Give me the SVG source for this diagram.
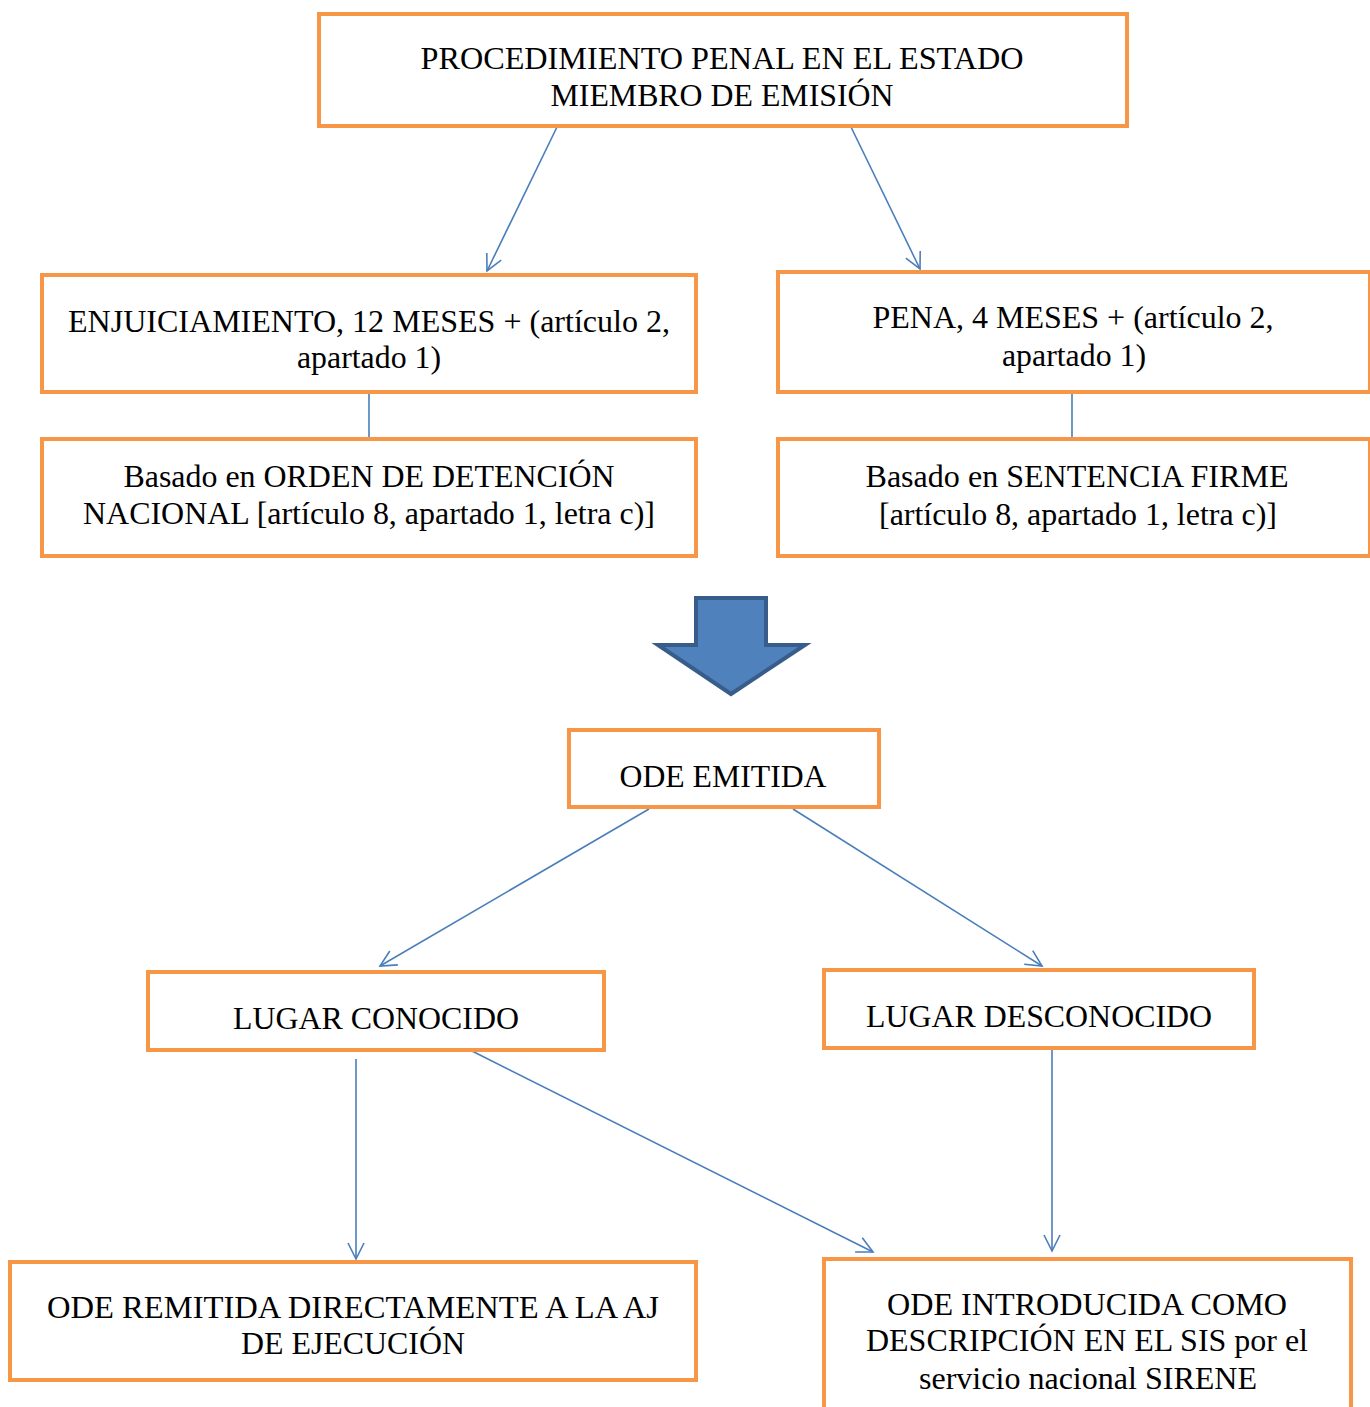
<svg xmlns="http://www.w3.org/2000/svg" width="1370" height="1407" viewBox="0 0 1370 1407">
<style>
.box{fill:#fff;stroke:#f79646;stroke-width:4}
.t{font-family:"Liberation Serif","Times New Roman",serif;font-size:32px;fill:#000;text-anchor:middle}
.c{stroke:#4a7ebb;stroke-width:1.6;fill:none}
.a{marker-end:url(#ah)}
</style>
<defs>
<marker id="ah" markerUnits="userSpaceOnUse" markerWidth="20" markerHeight="20" viewBox="0 0 20 20" refX="18" refY="10" orient="auto">
<path d="M2,2 L18,10 L2,18" fill="none" stroke="#4a7ebb" stroke-width="1.6"/>
</marker>
</defs>
<rect width="1370" height="1407" fill="#fff"/>
<g id="connectors">
<line class="c a" x1="557" y1="127" x2="487" y2="271"/>
<line class="c a" x1="851" y1="127" x2="920" y2="269"/>
<line class="c" x1="369" y1="392" x2="369" y2="438"/>
<line class="c" x1="1072" y1="392" x2="1072" y2="438"/>
<line class="c a" x1="649" y1="809" x2="380" y2="966"/>
<line class="c a" x1="793" y1="809" x2="1042" y2="966"/>
<line class="c a" x1="356" y1="1059" x2="356" y2="1259"/>
<line class="c a" x1="472" y1="1051" x2="873" y2="1252"/>
<line class="c a" x1="1052" y1="1050" x2="1052" y2="1251"/>
</g>
<g id="big-arrow">
<polygon points="696,598 766,598 766,645 805,645 731,694 658,645 696,645" fill="#4f81bd" stroke="#385d8a" stroke-width="4" stroke-linejoin="miter"/>
</g>
<g id="n-procedimiento">
<rect class="box" x="319" y="14" width="808" height="112"/>
<text class="t" x="722" y="69" textLength="603" lengthAdjust="spacingAndGlyphs">PROCEDIMIENTO PENAL EN EL ESTADO</text>
<text class="t" x="722" y="106" textLength="343" lengthAdjust="spacingAndGlyphs">MIEMBRO DE EMISIÓN</text>
</g>
<g id="n-enjuiciamiento">
<rect class="box" x="42" y="275" width="654" height="117"/>
<text class="t" x="369" y="332" textLength="602" lengthAdjust="spacingAndGlyphs">ENJUICIAMIENTO, 12 MESES + (artículo 2,</text>
<text class="t" x="369" y="368" textLength="144" lengthAdjust="spacingAndGlyphs">apartado 1)</text>
</g>
<g id="n-pena">
<rect class="box" x="778" y="272" width="592" height="120"/>
<text class="t" x="1073" y="328" textLength="401" lengthAdjust="spacingAndGlyphs">PENA, 4 MESES + (artículo 2,</text>
<text class="t" x="1074" y="366" textLength="144" lengthAdjust="spacingAndGlyphs">apartado 1)</text>
</g>
<g id="n-orden">
<rect class="box" x="42" y="439" width="654" height="117"/>
<text class="t" x="369" y="487" textLength="491" lengthAdjust="spacingAndGlyphs">Basado en ORDEN DE DETENCIÓN</text>
<text class="t" x="369" y="524" textLength="572" lengthAdjust="spacingAndGlyphs">NACIONAL [artículo 8, apartado 1, letra c)]</text>
</g>
<g id="n-sentencia">
<rect class="box" x="778" y="439" width="592" height="117"/>
<text class="t" x="1077" y="487" textLength="423" lengthAdjust="spacingAndGlyphs">Basado en SENTENCIA FIRME</text>
<text class="t" x="1078" y="525" textLength="398" lengthAdjust="spacingAndGlyphs">[artículo 8, apartado 1, letra c)]</text>
</g>
<g id="n-ode-emitida">
<rect class="box" x="569" y="730" width="310" height="77"/>
<text class="t" x="723" y="787" textLength="207" lengthAdjust="spacingAndGlyphs">ODE EMITIDA</text>
</g>
<g id="n-lugar-conocido">
<rect class="box" x="148" y="972" width="456" height="78"/>
<text class="t" x="376" y="1029" textLength="286" lengthAdjust="spacingAndGlyphs">LUGAR CONOCIDO</text>
</g>
<g id="n-lugar-desconocido">
<rect class="box" x="824" y="970" width="430" height="78"/>
<text class="t" x="1039" y="1027" textLength="346" lengthAdjust="spacingAndGlyphs">LUGAR DESCONOCIDO</text>
</g>
<g id="n-ode-remitida">
<rect class="box" x="10" y="1262" width="686" height="118"/>
<text class="t" x="353" y="1318" textLength="612" lengthAdjust="spacingAndGlyphs">ODE REMITIDA DIRECTAMENTE A LA AJ</text>
<text class="t" x="353" y="1354" textLength="224" lengthAdjust="spacingAndGlyphs">DE EJECUCIÓN</text>
</g>
<g id="n-ode-introducida">
<rect class="box" x="824" y="1259" width="527" height="170"/>
<text class="t" x="1087" y="1315" textLength="400" lengthAdjust="spacingAndGlyphs">ODE INTRODUCIDA COMO</text>
<text class="t" x="1087" y="1351" textLength="442" lengthAdjust="spacingAndGlyphs">DESCRIPCIÓN EN EL SIS por el</text>
<text class="t" x="1088" y="1389" textLength="338" lengthAdjust="spacingAndGlyphs">servicio nacional SIRENE</text>
</g>
</svg>
